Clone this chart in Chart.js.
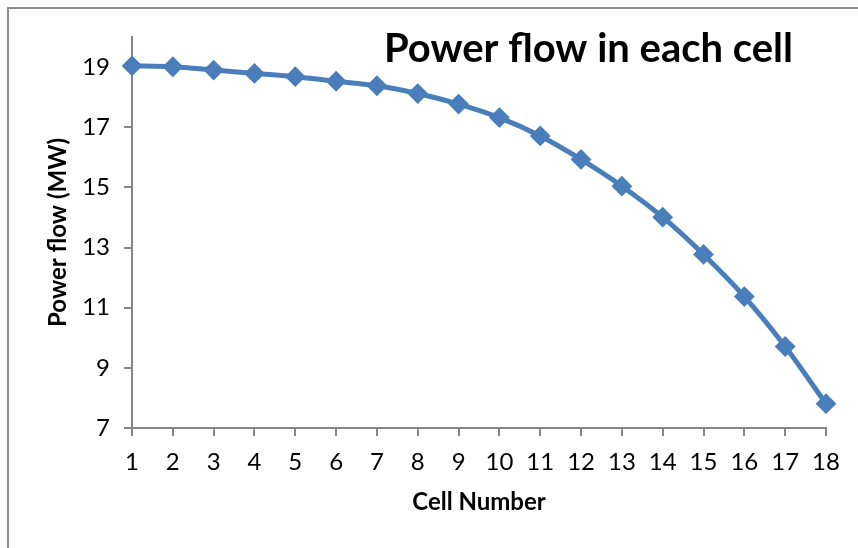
<!DOCTYPE html>
<html>
<head>
<meta charset="utf-8">
<title>Power flow in each cell</title>
<script src="https://cdn.jsdelivr.net/npm/chart.js@4.4.1/dist/chart.umd.min.js"></script>
<style>
	html, body { margin: 0; padding: 0; background: #fff; }
	#wrap { position: relative; width: 858px; height: 548px; }
</style>
</head>
<body>
<div id="wrap"><canvas id="line-chart" width="858" height="548"></canvas></div>
<script>
var cells = ['1','2','3','4','5','6','7','8','9','10','11','12','13','14','15','16','17','18'];
var powerFlow = [19.04, 19.01, 18.9, 18.79, 18.68, 18.53, 18.38, 18.12, 17.77, 17.32, 16.71, 15.93, 15.04, 14.01, 12.77, 11.37, 9.71, 7.81];
var yTicks = [7, 9, 11, 13, 15, 17, 19];

var chartTitle = 'Power flow in each cell';
var axisColor = '#868686';
var lineColor = '#4a7ebb';

// title sits inside the plot area and the frame runs off the right/bottom edge
var extras = {
	id: 'extras',
	beforeDraw: function(chart) {
		var ctx = chart.ctx;
		ctx.save();
		ctx.strokeStyle = '#8c8c8c';
		ctx.lineWidth = 2;
		ctx.strokeRect(8, 8, 900, 600);
		ctx.restore();
	},
	afterDraw: function(chart) {
		var ctx = chart.ctx;
		ctx.save();
		ctx.fillStyle = '#000';
		ctx.font = 'bold 40px Lato';
		ctx.textAlign = 'left';
		ctx.textBaseline = 'alphabetic';
		ctx.fillText(chartTitle, 384, 62);
		ctx.restore();
	}
};

var ctx = document.getElementById('line-chart');
new Chart(ctx, {
	type: 'line',
	data: {
		labels: cells,
		datasets: [{
			data: powerFlow,
			borderColor: lineColor,
			backgroundColor: lineColor,
			borderWidth: 5,
			tension: 0.25,
			pointStyle: 'rectRot',
			pointRadius: 9,
			pointBorderWidth: 2,
			pointBorderColor: lineColor,
			pointBackgroundColor: lineColor
		}]
	},
	options: {
		responsive: false,
		animation: false,
		layout: { padding: { left: 40, right: 32, top: 37, bottom: 20 } },
		plugins: {
			legend: { display: false },
			tooltip: { enabled: false }
		},
		scales: {
			x: {
				offset: false,
				grid: { drawOnChartArea: false, drawTicks: true, tickLength: 8, color: axisColor, lineWidth: 2, offset: false },
				border: { color: axisColor, width: 2 },
				ticks: { color: '#000', font: { family: 'Lato', size: 24 }, padding: 12, maxRotation: 0, autoSkip: false },
				title: { display: true, text: 'Cell Number', color: '#000', font: { family: 'Lato', size: 24, weight: 'bold' }, padding: { top: 0, bottom: 11 } },
				afterFit: function(scale) { scale.height = 100; }
			},
			y: {
				min: 7,
				max: 20,
				grid: { drawOnChartArea: false, drawTicks: true, tickLength: 8, color: axisColor, lineWidth: 2 },
				border: { color: axisColor, width: 2 },
				ticks: { color: '#000', font: { family: 'Lato', size: 24 }, padding: 14 },
				afterBuildTicks: function(scale) {
					scale.ticks = yTicks.map(function(v) { return { value: v }; });
				},
				title: { display: true, text: 'Power flow (MW)', color: '#000', font: { family: 'Lato', size: 24, weight: 'bold' }, padding: { top: 4, bottom: 0 } },
				afterFit: function(scale) { scale.width = 92; }
			}
		}
	},
	plugins: [extras]
});
</script>
</body>
</html>
